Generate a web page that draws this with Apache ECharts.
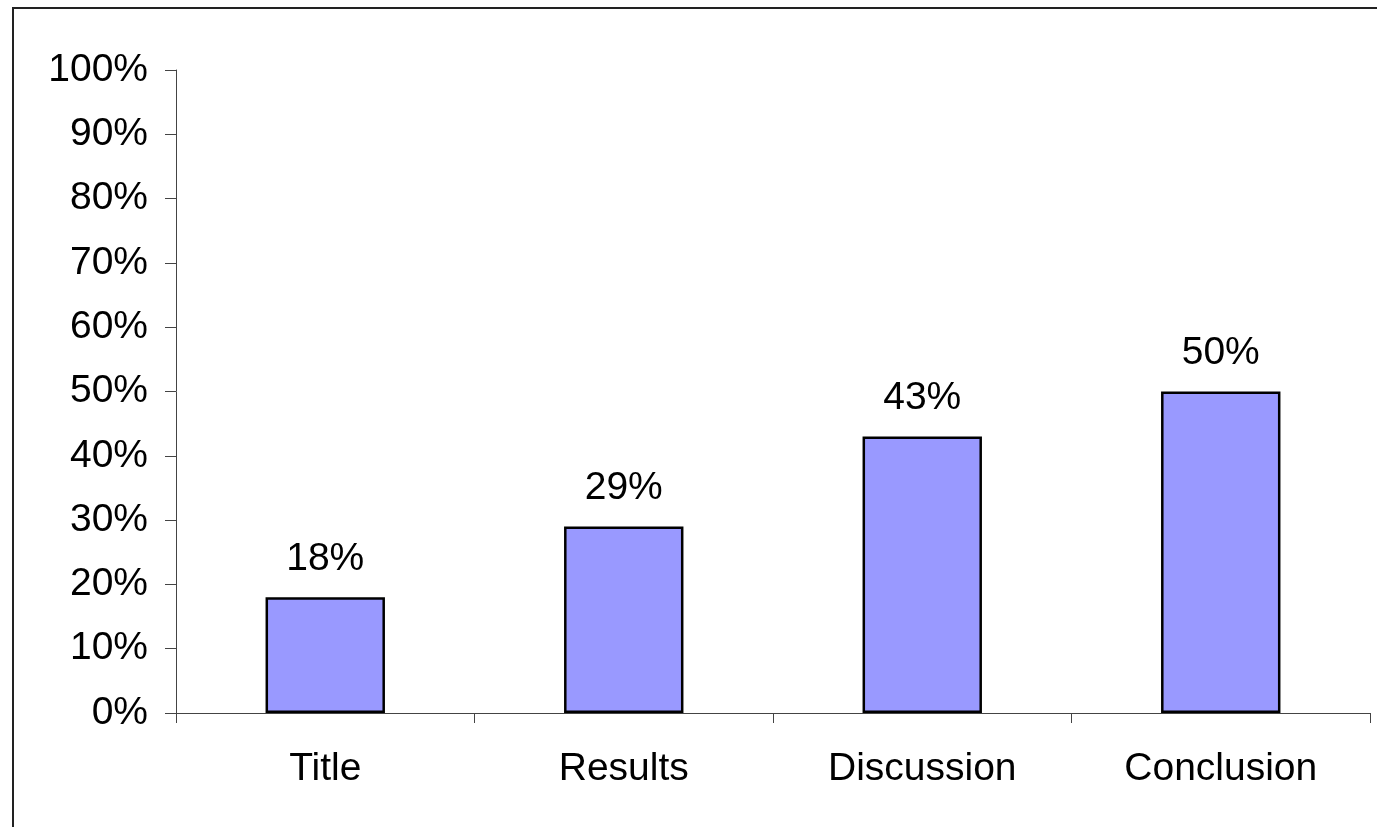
<!DOCTYPE html>
<html>
<head>
<meta charset="utf-8">
<script src="https://cdn.jsdelivr.net/npm/echarts@6/dist/echarts.min.js"></script>
<style>
  html, body { margin: 0; padding: 0; background: #fff; }
  #main { width: 1377px; height: 827px; }
</style>
</head>
<body>
<div id="main"></div>
<script>
var categories = ['Title', 'Results', 'Discussion', 'Conclusion'];
var shares = [18, 29, 43, 50];
var tickValues = [0, 10, 20, 30, 40, 50, 60, 70, 80, 90, 100];

var font = 'Liberation Sans, Arial, sans-serif';
var myChart = echarts.init(document.getElementById('main'));

var option = {
  backgroundColor: '#fff',
  animation: false,
  graphic: [
    {
      type: 'rect',
      shape: { x: 13, y: 8, width: 1420, height: 900 },
      style: { fill: 'none', stroke: '#222', lineWidth: 2 },
      silent: true
    }
  ],
  grid: { left: 176, top: 70, right: 7, bottom: 114 },
  xAxis: {
    type: 'category',
    data: categories,
    axisLine: { lineStyle: { color: '#444', width: 1 } },
    axisTick: { show: true, length: 10, inside: false, lineStyle: { color: '#444' } },
    axisLabel: { color: '#000', fontSize: 39, fontFamily: font, margin: 37 },
    splitLine: { show: false }
  },
  yAxis: {
    type: 'value',
    min: tickValues[0],
    max: tickValues[tickValues.length - 1],
    interval: 10,
    axisLine: { show: true, lineStyle: { color: '#444', width: 1 } },
    axisTick: { show: true, length: 11, lineStyle: { color: '#444' } },
    axisLabel: {
      color: '#000', fontSize: 39, fontFamily: font, margin: 28,
      formatter: function (v) { return v + '%'; }
    },
    splitLine: { show: false }
  },
  series: [
    {
      type: 'bar',
      data: shares,
      barWidth: '40%',
      itemStyle: { color: '#9999FF', borderColor: '#000', borderWidth: 2.5 },
      label: {
        show: true,
        position: 'top',
        distance: 19,
        color: '#000',
        fontSize: 39,
        fontFamily: font,
        formatter: function (p) { return p.value + '%'; }
      }
    }
  ]
};
myChart.setOption(option);
</script>
</body>
</html>
